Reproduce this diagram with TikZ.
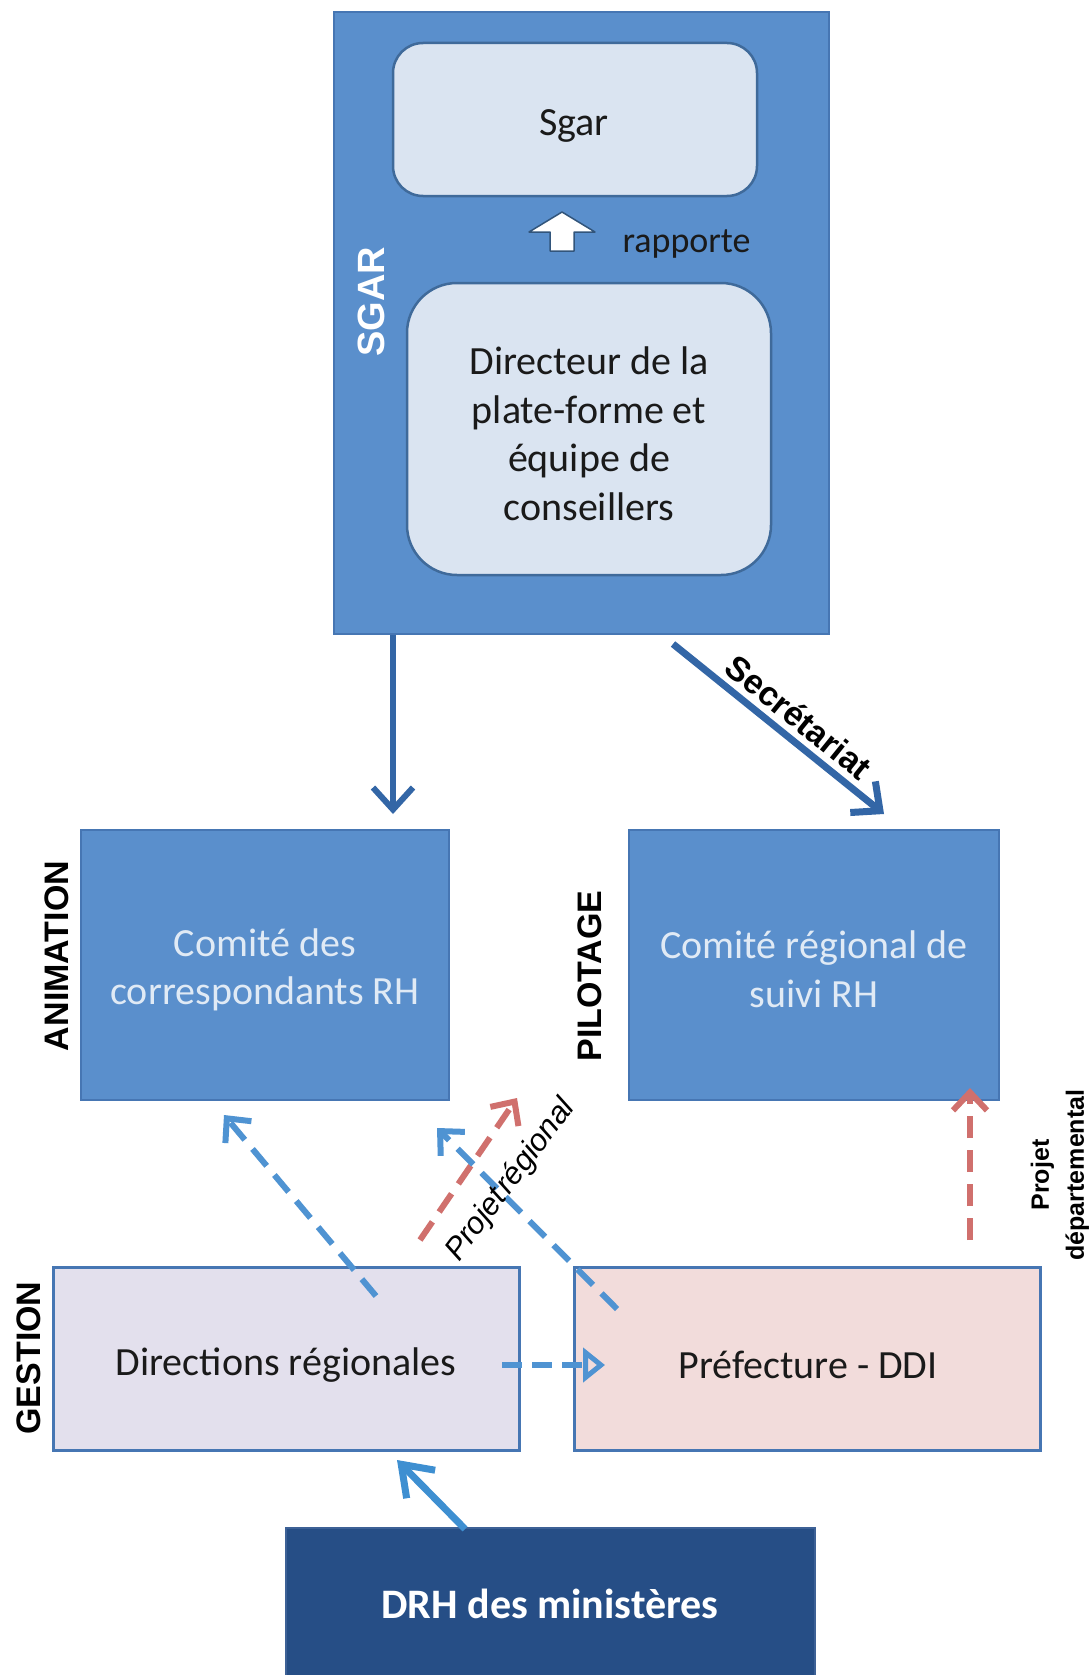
\documentclass[tikz,border=0pt]{standalone}
\usepackage{fontspec}
\setmainfont{Carlito}
\newfontfamily\arialf{Liberation Sans}
\usetikzlibrary{arrows.meta,calc}
\definecolor{boxblue}{HTML}{5A8FCC}
\definecolor{boxborder}{HTML}{4676B3}
\definecolor{innerfill}{HTML}{DAE4F1}
\definecolor{innerborder}{HTML}{3F6A9A}
\definecolor{arrowdark}{HTML}{3366A6}
\definecolor{lightblue}{HTML}{4F93D2}
\definecolor{drharrow}{HTML}{3E8FD1}
\definecolor{redarrow}{HTML}{D0706D}
\definecolor{lavender}{HTML}{E3E0ED}
\definecolor{pinkfill}{HTML}{F2DCDB}
\definecolor{drhfill}{HTML}{264E86}
\definecolor{drhborder}{HTML}{3D6196}
\definecolor{palet}{HTML}{E0EAF5}
\definecolor{darktext}{HTML}{1A1A1A}
\begin{document}
\begin{tikzpicture}[x=1pt,y=-1pt,
  bigbox/.style={draw=boxborder,fill=boxblue,line width=2pt,inner sep=0pt},
  innerbox/.style={draw=innerborder,fill=innerfill,line width=2.5pt,rounded corners=#1,inner sep=0pt},
  calib/.style={font=\fontsize{40}{48.5}\selectfont,align=center,text=darktext},
  sidelabel/.style={font=\arialf\bfseries\fontsize{34}{40}\selectfont,rotate=90,text=black},
  darrow/.style={draw=arrowdark,line width=6pt,-{Straight Barb[length=22pt,width=40pt]}},
  dashblue/.style={draw=lightblue,line width=6pt,dash pattern=on 22pt off 12pt,-{Straight Barb[length=18pt,width=34pt]}},
  dashred/.style={draw=redarrow,line width=6pt,dash pattern=on 22pt off 12pt,-{Straight Barb[length=18pt,width=34pt]}}
]
\useasboundingbox (0,0) rectangle (1091,1675);
\fill[white] (0,0) rectangle (1091,1675);

% SGAR block
\node[bigbox,minimum width=495pt,minimum height=622pt] (sgarbox) at (581.5,323) {};
\node[innerbox=30pt,minimum width=364pt,minimum height=153pt] (sgar) at (575,119.5) {};
\node[calib] at (574,126) {Sgar};
\node[innerbox=50pt,minimum width=364pt,minimum height=292pt] (dir) at (589,429) {};
\node[calib] at (589,434) {Directeur de la\\plate-forme et\\équipe de\\conseillers};
\node[font=\arialf\bfseries\fontsize{38}{44}\selectfont,rotate=90,text=white] (sgarlab) at (371,302) {SGAR};
% white up arrow
\draw[draw=innerborder!80!black,line width=1.5pt,fill=white,line join=round]
  (562,212) -- (595,232) -- (574,232) -- (574,251) -- (550,251) -- (550,232) -- (529,232) -- cycle;
\node[font=\fontsize{36}{42}\selectfont,text=darktext,anchor=west] (rap) at (619,244) {rapporte};

% committees
\node[bigbox,minimum width=368pt,minimum height=270pt] (com1) at (265,965) {};
\node[calib,text=palet] at (265,970) {Comité des\\correspondants RH};
\node[bigbox,minimum width=370pt,minimum height=270pt] (com2) at (814,965) {};
\node[calib,text=palet] at (814,969) {Comité régional de\\suivi RH};
\node[sidelabel] (anim) at (57,956) {ANIMATION};
\node[sidelabel] (pilot) at (590,976) {PILOTAGE};

% gestion
\node[draw=boxborder,fill=lavender,line width=3pt,minimum width=466pt,minimum height=183pt,inner sep=0pt] (dirreg) at (286,1358.5) {};
\node[calib] at (286,1365) {Directions régionales};
\node[draw=boxborder,fill=pinkfill,line width=3pt,minimum width=466pt,minimum height=183pt,inner sep=0pt] (pref) at (807,1358.5) {};
\node[calib] at (808,1365) {Préfecture - DDI};
\node[sidelabel] (gest) at (29,1358) {GESTION};

% DRH
\node[draw=drhborder,fill=drhfill,line width=2pt,minimum width=529pt,minimum height=160pt,inner sep=0pt] (drh) at (550.5,1608) {};
\node[font=\bfseries\fontsize{42}{48}\selectfont,text=white] at (550,1604) {DRH des ministères};

% connectors
\coordinate (a1) at (393,814);
\draw[darrow] (sgarbox.south -| a1) -- (a1);
\coordinate (s1) at (673,644);
\coordinate (s2) at (884,814);
\draw[darrow,line width=7pt] (s1) -- (s2);
\node[font=\arialf\bfseries\fontsize{34}{40}\selectfont,rotate=-39,text=black] at (799,717) {Secrétariat};

\coordinate (d1) at (465,1529);
\coordinate (d2) at (397,1460);
\draw[draw=drharrow,line width=7pt,-{Straight Barb[length=28pt,width=40pt]}] (d1) -- (d2);

\coordinate (b1s) at (376,1296);
\coordinate (b1e) at (224,1115);
\draw[dashblue] (b1s) -- (b1e);
\coordinate (r1s) at (420,1240);
\coordinate (r1e) at (517,1098);
\draw[dashred] (r1s) -- (r1e);
\coordinate (b2s) at (617,1309);
\coordinate (b2e) at (437,1128);
\draw[dashblue] (b2s) -- (b2e);
\node[font=\arialf\itshape\fontsize{31}{36}\selectfont,rotate=53,text=black] at (511,1180) {Projet\hspace{-0.2em} régional};

\coordinate (r2s) at (970,1240);
\draw[dashred] (r2s) -- (r2s |- 0,1088);
\node[font=\arialf\bfseries\fontsize{25}{35}\selectfont,rotate=90,align=center,text=black] at (1060,1175) {Projet\\départemental};

\coordinate (h1) at (502,1365);
\coordinate (h2) at (605,1365);
\draw[draw=lightblue,line width=6pt,dash pattern=on 20pt off 10pt,-{Triangle[open,length=22pt,width=34pt,line width=5pt]}] (h1) -- (h2);
\end{tikzpicture}
\end{document}
